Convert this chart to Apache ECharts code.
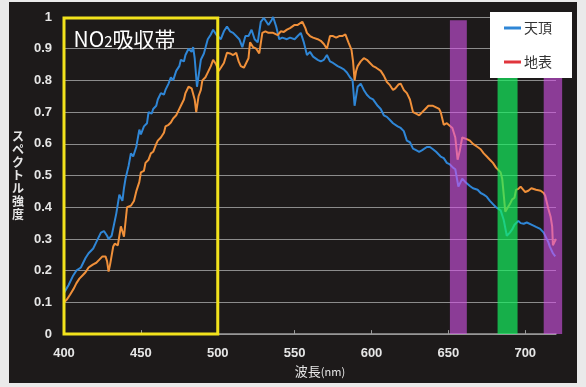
<!DOCTYPE html>
<html>
<head>
<meta charset="utf-8">
<script src="https://cdn.jsdelivr.net/npm/echarts@6/dist/echarts.min.js"></script>
<style>
  html, body { margin: 0; padding: 0; background: #eaeaea; width: 586px; height: 387px; overflow: hidden; }
  #chart { position: absolute; left: 9px; top: 2px; width: 568px; height: 381px; }
</style>
</head>
<body>
<div id="chart"></div>
<script>
// Spectrum at zenith (天頂): wavelength [nm] and relative intensity
const zenithWavelength = [
  400,403,406,408,411,414,416,419,421,424,426,428,429,431,434,436,437,438,439,440,
  442,443.5,445,447,449,450,452,454,455,457,458,460,461,463,465,466,468,469.5,471,473,
  475,476,478,479,481,483,484,485,486.5,488,489,491,492,493.5,495.5,497,499,500,502,504,
  506,508,510,512,514,516,518,520,522,524,526,528,530,531,533,535,536,538,540,542,
  543,545,547,550,552,554,556,558,560,562,565,567,569,571,573,575,578,580,582,584,
  586,587.7,589,590,591,593,595,597,599,601,604,606,608,610,612,614,617,619,621,623,
  625,627,629,631,633,636,638,640,642,645,647,649,651,653,654.5,656.5,658,659,661,662,
  664,666,669,671,673,675,677,679,681,684,685,686,688,690,691.5,693,695.5,697,699,701,
  702,704,705,707,709.7,712,713,715,716,718,719.5
];
const zenithIntensity = [
  0.13,0.155,0.185,0.20,0.21,0.24,0.255,0.27,0.29,0.32,0.325,0.31,0.30,0.31,0.38,0.44,0.43,0.42,0.46,0.49,
  0.53,0.57,0.56,0.59,0.645,0.63,0.655,0.665,0.70,0.695,0.71,0.72,0.74,0.76,0.755,0.77,0.79,0.81,0.80,0.83,
  0.845,0.865,0.86,0.88,0.90,0.89,0.905,0.87,0.78,0.83,0.865,0.885,0.88,0.93,0.945,0.96,0.945,0.94,0.93,0.955,
  0.97,0.955,0.95,0.94,0.93,0.905,0.94,0.94,0.96,0.93,0.92,0.985,0.997,1.0,0.975,0.99,1.0,0.97,0.93,0.935,
  0.94,0.93,0.935,0.93,0.94,0.95,0.92,0.88,0.89,0.875,0.865,0.86,0.865,0.88,0.86,0.855,0.845,0.84,0.835,0.825,
  0.81,0.80,0.72,0.75,0.78,0.79,0.77,0.755,0.745,0.74,0.72,0.71,0.69,0.685,0.675,0.665,0.655,0.65,0.64,0.61,
  0.605,0.585,0.58,0.575,0.58,0.59,0.59,0.583,0.575,0.56,0.555,0.54,0.535,0.525,0.52,0.465,0.48,0.49,0.48,0.477,
  0.467,0.46,0.455,0.445,0.44,0.433,0.42,0.41,0.40,0.39,0.385,0.36,0.31,0.32,0.33,0.345,0.357,0.35,0.348,0.352,
  0.354,0.345,0.342,0.338,0.332,0.32,0.315,0.29,0.276,0.255,0.245
];

// Spectrum at ground level (地表)
const groundWavelength = [
  400,402,404,406.5,408,410,412,414,416,417.5,419,421,423,425,427,428,429,430,432,433,
  435,437,439,441,443.5,445.5,447,449,450,452,453,455,456.5,458,460,461,463,465,466,468,
  469.5,471,473,474,476,478,479,481,483,484,485,486,487.5,489,490,492,493,495.5,497,499,
  500.6,502,504,506,508,510,512,513.6,515,517,518,520,521,523,525,527,529,531,533,536,
  539,541,543,545,547,550,552,555,557,558,560,562,565,567,569,571,573,575,577,579,
  581,583,585,587,588,589,590,591,593,595,597,599,601,603,606,608,610,612,614,615.5,
  617.5,619,621,623,625,627,629,631,633,635,637,638,640,642,644,645,647,649,650,652.6,
  654.5,656,657.5,659,662,664,666,669,671,673,675,677,679,681,684,685,686,687,688,690,
  691.5,693,694,695.5,697,698,700,702,704,705,707,710,712,713,715,716.5,717.5,718,719,720
];
const groundIntensity = [
  0.10,0.11,0.125,0.145,0.16,0.175,0.185,0.195,0.21,0.215,0.22,0.225,0.235,0.245,0.245,0.23,0.197,0.22,0.276,0.285,
  0.28,0.34,0.307,0.40,0.405,0.42,0.45,0.48,0.51,0.515,0.54,0.55,0.57,0.575,0.60,0.61,0.62,0.635,0.655,0.66,
  0.667,0.68,0.69,0.70,0.72,0.74,0.76,0.78,0.775,0.77,0.74,0.70,0.75,0.77,0.80,0.81,0.82,0.845,0.865,0.85,
  0.83,0.84,0.855,0.887,0.885,0.88,0.887,0.86,0.845,0.84,0.835,0.87,0.92,0.905,0.90,0.885,0.95,0.955,0.95,0.95,
  0.943,0.955,0.953,0.96,0.965,0.975,0.975,0.985,0.965,0.95,0.94,0.935,0.93,0.925,0.915,0.90,0.94,0.94,0.935,0.94,
  0.94,0.945,0.92,0.896,0.86,0.80,0.83,0.845,0.86,0.87,0.865,0.855,0.845,0.84,0.83,0.815,0.795,0.785,0.77,0.775,
  0.787,0.79,0.77,0.76,0.74,0.70,0.695,0.69,0.70,0.71,0.72,0.724,0.72,0.715,0.71,0.70,0.66,0.665,0.66,0.65,
  0.62,0.55,0.58,0.62,0.615,0.61,0.60,0.59,0.583,0.57,0.56,0.55,0.54,0.525,0.51,0.49,0.44,0.386,0.39,0.41,
  0.425,0.43,0.455,0.458,0.465,0.46,0.448,0.452,0.46,0.458,0.455,0.452,0.445,0.436,0.395,0.37,0.34,0.28,0.29,0.30
];

// Highlighted wavelength bands: [start nm, end nm, top intensity, kind]
const absorptionBands = [
  [651, 662, 0.99, 'o2'],
  [682, 695, 0.99, 'h2o'],
  [712, 724, 0.99, 'o2']
];
const no2Band = [400, 500, 0.997];

const seriesNames = ['天頂', '地表'];
const xTicks = { min: 400, max: 720, interval: 50 };
const yTicks = { min: 0, max: 1, interval: 0.1 };

const pairs = (xs, ys) => xs.map((x, i) => [x, ys[i]]);

const bandFill = {
  o2: 'rgba(214,84,233,0.6)',
  h2o: 'rgba(22,240,95,0.7)'
};

const chart = echarts.init(document.getElementById('chart'), null, { renderer: 'canvas' });

const labelFont = '"Liberation Sans", Arial, sans-serif';
const cjkFont = '"Noto Sans CJK JP", "Noto Sans", sans-serif';

chart.setOption({
  backgroundColor: '#1d1a1a',
  animation: false,
  grid: { left: 54, right: 21, top: 15, bottom: 47, containLabel: false },
  legend: {
    z: 20,
    orient: 'vertical',
    left: 481,
    top: 10,
    backgroundColor: '#ffffff',
    padding: [9, 20, 9, 14],
    itemGap: 20,
    itemWidth: 17,
    itemHeight: 3,
    icon: 'rect',
    textStyle: { color: '#333', fontSize: 14, fontFamily: cjkFont, padding: [0, 0, 0, -2] },
    data: [
      { name: seriesNames[0], itemStyle: { color: '#2f86d6' } },
      { name: seriesNames[1], itemStyle: { color: '#e0353c' } }
    ]
  },
  xAxis: {
    type: 'value',
    min: xTicks.min,
    max: xTicks.max,
    interval: xTicks.interval,
    name: '{a|波長}{b|(nm)}',
    nameLocation: 'middle',
    nameGap: 30,
    nameTextStyle: {
      padding: [0, 0, 0, 20],
      rich: {
        a: { color: '#e6e6e6', fontSize: 13, fontFamily: cjkFont },
        b: { color: '#e6e6e6', fontSize: 11, fontFamily: cjkFont }
      }
    },
    axisLine: { lineStyle: { color: '#9a9a9a', width: 1.5 } },
    axisTick: { show: true, inside: true, length: 4, lineStyle: { color: '#9a9a9a' } },
    axisLabel: { color: '#e6e6e6', fontSize: 13, fontWeight: 'bold', margin: 13, fontFamily: labelFont, showMaxLabel: false },
    splitLine: { show: false }
  },
  yAxis: {
    type: 'value',
    min: yTicks.min,
    max: yTicks.max,
    interval: yTicks.interval,
    name: 'ス\nペ\nク\nト\nル\n強\n度',
    nameLocation: 'middle',
    nameRotate: 0,
    nameGap: 40,
    nameTextStyle: { color: '#e6e6e6', fontSize: 12, lineHeight: 13, fontFamily: cjkFont, fontWeight: 'bold' },
    axisLine: { show: false },
    axisTick: { show: false },
    axisLabel: { color: '#e6e6e6', fontSize: 13, fontWeight: 'bold', margin: 12, fontFamily: labelFont },
    splitLine: { lineStyle: { color: '#8c8c8c', width: 1 } }
  },
  series: [
    {
      name: seriesNames[0],
      type: 'line',
      data: pairs(zenithWavelength, zenithIntensity),
      showSymbol: false,
      lineStyle: { color: '#2f86d6', width: 2 },
      itemStyle: { color: '#2f86d6' },
      z: 2
    },
    {
      name: seriesNames[1],
      type: 'line',
      data: pairs(groundWavelength, groundIntensity),
      showSymbol: false,
      lineStyle: { color: '#f0903a', width: 2 },
      itemStyle: { color: '#f0903a' },
      z: 2
    },
    {
      // translucent absorption bands laid over the spectra
      name: 'bands',
      type: 'custom',
      clip: false,
      silent: true,
      z: 5,
      encode: { x: [0, 1], y: 2 },
      data: absorptionBands,
      renderItem: function (params, api) {
        const p0 = api.coord([api.value(0), 0]);
        const p1 = api.coord([api.value(1), api.value(2)]);
        const kind = absorptionBands[params.dataIndex][3];
        return {
          type: 'rect',
          shape: { x: p0[0], y: p1[1], width: p1[0] - p0[0], height: p0[1] - p1[1] },
          style: { fill: bandFill[kind] }
        };
      }
    },
    {
      name: 'no2',
      type: 'line',
      data: [],
      clip: false,
      z: 6,
      markArea: {
        silent: true,
        z: 6,
        itemStyle: { color: 'rgba(0,0,0,0)', borderColor: '#f2e21c', borderWidth: 3 },
        label: {
          show: true,
          position: 'insideTopLeft',
          distance: 0,
          padding: [12, 0, 0, 11],
          formatter: '{n|NO}{s|2}{c|吸収帯}',
          rich: {
            n: { color: '#ffffff', fontSize: 21, fontFamily: cjkFont },
            s: { color: '#ffffff', fontSize: 15, fontFamily: cjkFont, padding: [5, 0, 0, 0] },
            c: { color: '#ffffff', fontSize: 21, fontFamily: cjkFont }
          }
        },
        data: [[
          { xAxis: no2Band[0], yAxis: 0 },
          { xAxis: no2Band[1], yAxis: no2Band[2] }
        ]]
      }
    }
  ]
});
</script>
</body>
</html>
